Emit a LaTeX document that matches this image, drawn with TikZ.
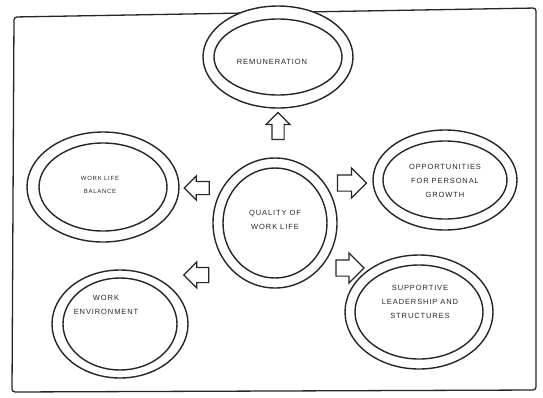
\documentclass[tikz,border=0pt]{standalone}
\usepackage{fontspec}
\setmainfont{Liberation Sans}
\usetikzlibrary{shapes.arrows}
\definecolor{ink}{HTML}{262626}
\begin{document}
\begin{tikzpicture}[x=1pt,y=-1pt,
  ring/.style={draw=ink,line width=1.4pt},
  lbl/.style={align=center,text=ink,font=\fontsize{7.5}{14}\selectfont\addfontfeature{LetterSpace=12}},
  small/.style={align=center,text=ink,font=\fontsize{6}{13}\selectfont\addfontfeature{LetterSpace=12}},
  blk/.style={single arrow,draw=ink,line width=1.2pt,fill=white,inner xsep=0pt,
    single arrow tip angle=90}
]
\useasboundingbox (0,0) rectangle (543,397);
% frame
\draw[ink,line width=1.3pt,rounded corners=3pt] (14,17) -- (536,8) -- (536,390) -- (12,392) -- cycle;
% remuneration
\draw[ring,fill=white] (278,57) ellipse [x radius=75,y radius=51];
\draw[ring] (278,57) ellipse [x radius=64,y radius=38];
\node[lbl] (rem) at (272,62) {REMUNERATION};
% work life balance
\draw[ring] (103,187) ellipse [x radius=76,y radius=55];
\draw[ring] (103,187) ellipse [x radius=64,y radius=44];
\node[small] (wlb) at (100,185) {WORK LIFE\\BALANCE};
% centre
\draw[ring] (275,223) ellipse [x radius=62,y radius=65];
\draw[ring] (275,223) ellipse [x radius=52,y radius=55];
\node[lbl] (qwl) at (275,220) {QUALITY OF\\WORK LIFE};
% opportunities
\draw[ring] (445,180) ellipse [x radius=72,y radius=50];
\draw[ring] (445,180) ellipse [x radius=62,y radius=39];
\node[lbl] (opp) at (445,181) {OPPORTUNITIES\\FOR PERSONAL\\GROWTH};
% work environment
\draw[ring] (120,324) ellipse [x radius=68,y radius=54];
\draw[ring] (120,324) ellipse [x radius=57,y radius=46];
\node[lbl] (env) at (106,305) {WORK\\ENVIRONMENT};
% supportive
\draw[ring] (419,312) ellipse [x radius=74,y radius=57];
\draw[ring] (419,312) ellipse [x radius=64,y radius=47];
\node[lbl] (sup) at (420,302) {SUPPORTIVE\\LEADERSHIP AND\\STRUCTURES};
% block arrows
\node[blk,minimum height=27pt,inner ysep=5.5pt,single arrow head extend=6pt,rotate=90] (aup) at (278,129) {};
\node[blk,minimum height=25pt,inner ysep=6pt,single arrow head extend=5.5pt,rotate=180] (alt) at (200,188) {};
\node[blk,minimum height=29pt,inner ysep=7.5pt,single arrow head extend=7pt] (art) at (348,183) {};
\node[blk,minimum height=28pt,inner ysep=7.5pt,single arrow head extend=7pt] (abr) at (346,268) {};
\node[blk,minimum height=25pt,inner ysep=7pt,single arrow head extend=5.5pt,rotate=180] (abl) at (200,275) {};
\end{tikzpicture}
\end{document}
